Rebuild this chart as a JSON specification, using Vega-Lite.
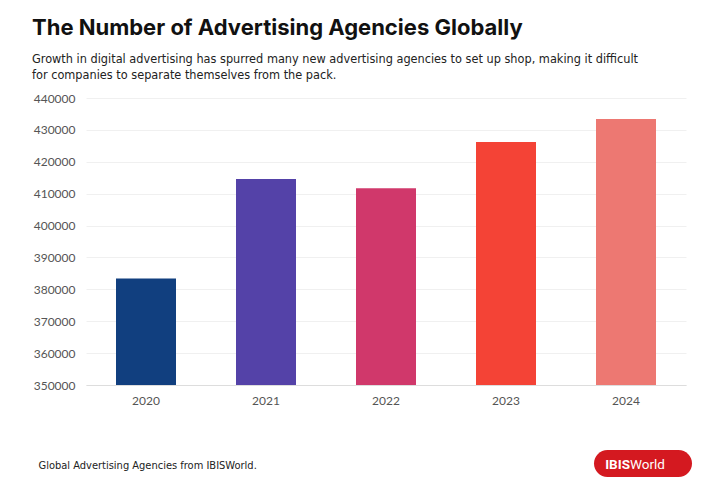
{
  "$schema": "https://vega.github.io/schema/vega-lite/v6.json",
  "autosize": "none",
  "width": 600,
  "height": 287,
  "padding": {"left": 86, "top": 98, "right": 34, "bottom": 114},
  "background": "white",
  "title": {
    "text": "The Number of Advertising Agencies Globally",
    "subtitle": ["Growth in digital advertising has spurred many new advertising agencies to set up shop, making it difficult", "for companies to separate themselves from the pack."],
    "anchor": "start",
    "frame": "group",
    "dx": -54,
    "offset": 9,
    "font": "Inter",
    "fontSize": 22,
    "fontWeight": "bold",
    "color": "#111111",
    "subtitleFont": "DejaVu Sans Condensed",
    "subtitleFontSize": 12.6,
    "subtitleColor": "#222222",
    "subtitleLineHeight": 16,
    "subtitlePadding": 13
  },
  "config": {
    "view": {"stroke": null},
    "axis": {"labelFont": "Lato", "labelFontSize": 12, "labelColor": "#555555"}
  },
  "layer": [
    {
      "data": {"values": [
        {"year": "2020", "agencies": 383400},
        {"year": "2021", "agencies": 414600},
        {"year": "2022", "agencies": 411700},
        {"year": "2023", "agencies": 426200},
        {"year": "2024", "agencies": 433400}
      ]},
      "mark": {"type": "bar"},
      "encoding": {
        "x": {
          "field": "year", "type": "nominal",
          "scale": {"paddingInner": 0.5, "paddingOuter": 0.25},
          "axis": {
            "labelAngle": 0, "ticks": false, "domain": true, "domainColor": "#dddddd",
            "labelPadding": 10,
            "title": "Global Advertising Agencies from IBISWorld.",
            "titleFont": "DejaVu Sans Condensed", "titleFontSize": 11, "titleFontWeight": "normal",
            "titleColor": "#222222", "titleAnchor": "start", "titleAlign": "left",
            "titleX": -48, "titleY": 83, "titleBaseline": "alphabetic"
          }
        },
        "y": {
          "field": "agencies", "type": "quantitative",
          "scale": {"domain": [350000, 440000], "nice": false, "zero": false},
          "axis": {
            "values": [350000, 360000, 370000, 380000, 390000, 400000, 410000, 420000, 430000, 440000],
            "format": "d", "title": null, "ticks": false, "domain": false,
            "gridColor": "#f0f0f0", "labelPadding": 11
          }
        },
        "y2": {"datum": 350000},
        "color": {
          "field": "year", "type": "nominal",
          "scale": {"range": ["#113f7f", "#5442a8", "#d0386b", "#f44336", "#ed7872"]},
          "legend": null
        }
      }
    },
    {
      "data": {"values": [{"label": "logo"}]},
      "mark": {"type": "rect", "color": "#d41920", "cornerRadius": 13.5},
      "encoding": {
        "x": {"value": 508}, "x2": {"value": 606},
        "y": {"value": 352}, "y2": {"value": 379}
      }
    },
    {
      "data": {"values": [{"label": "IBIS"}]},
      "mark": {"type": "text", "color": "white", "font": "Roboto", "fontSize": 13.5, "fontWeight": "bold", "align": "right", "baseline": "alphabetic"},
      "encoding": {"text": {"field": "label"}, "x": {"value": 544}, "y": {"value": 370.5}}
    },
    {
      "data": {"values": [{"label": "World"}]},
      "mark": {"type": "text", "color": "white", "font": "Roboto", "fontSize": 13.5, "align": "left", "baseline": "alphabetic"},
      "encoding": {"text": {"field": "label"}, "x": {"value": 544}, "y": {"value": 370.5}}
    }
  ]
}
